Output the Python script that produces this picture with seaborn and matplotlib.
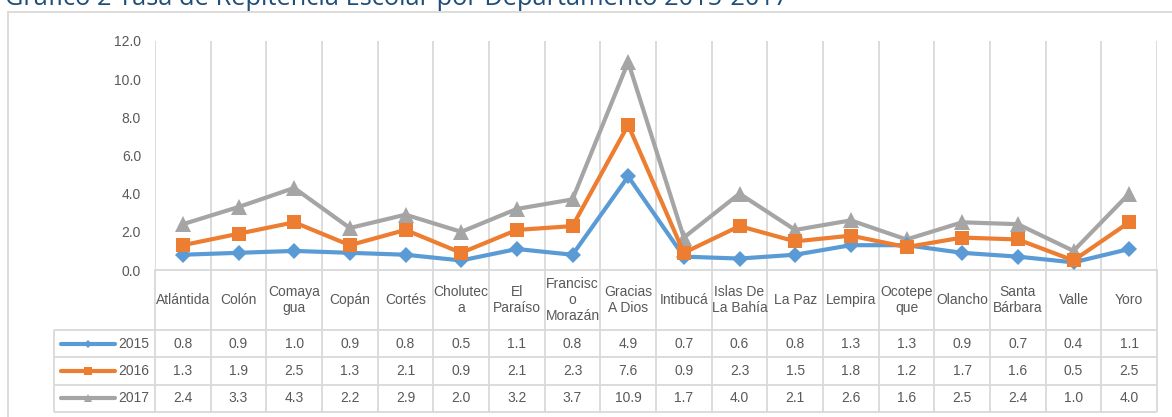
import numpy as np
import pandas as pd
import matplotlib
matplotlib.use("Agg")
import matplotlib.pyplot as plt
import seaborn as sns
from matplotlib.lines import Line2D

# datos del gráfico
departamentos = ["Atlántida", "Colón", "Comayagua", "Copán", "Cortés", "Choluteca",
                 "El Paraíso", "Francisco Morazán", "Gracias A Dios", "Intibucá",
                 "Islas De La Bahía", "La Paz", "Lempira", "Ocotepeque", "Olancho",
                 "Santa Bárbara", "Valle", "Yoro"]
etiquetas = ["Atlántida", "Colón", "Comaya\ngua", "Copán", "Cortés", "Cholutec\na",
             "El\nParaíso", "Francisc\no\nMorazán", "Gracias\nA Dios", "Intibucá",
             "Islas De\nLa Bahía", "La Paz", "Lempira", "Ocotepe\nque", "Olancho",
             "Santa\nBárbara", "Valle", "Yoro"]
anios = ["2015", "2016", "2017"]
tasa_2015 = [0.8, 0.9, 1.0, 0.9, 0.8, 0.5, 1.1, 0.8, 4.9, 0.7, 0.6, 0.8, 1.3, 1.3, 0.9, 0.7, 0.4, 1.1]
tasa_2016 = [1.3, 1.9, 2.5, 1.3, 2.1, 0.9, 2.1, 2.3, 7.6, 0.9, 2.3, 1.5, 1.8, 1.2, 1.7, 1.6, 0.5, 2.5]
tasa_2017 = [2.4, 3.3, 4.3, 2.2, 2.9, 2.0, 3.2, 3.7, 10.9, 1.7, 4.0, 2.1, 2.6, 1.6, 2.5, 2.4, 1.0, 4.0]
titulo = "Gráfico 2 Tasa de Repitencia Escolar por Departamento 2015-2017"

series = {"2015": tasa_2015, "2016": tasa_2016, "2017": tasa_2017}
estilo = {
    "2015": dict(color="#5B9BD5", marker="D", ms=8, z=3),
    "2016": dict(color="#ED7D31", marker="s", ms=10, z=4),
    "2017": dict(color="#A5A5A5", marker="^", ms=11, z=2),
}

filas = []
for a in anios:
    for i, d in enumerate(departamentos):
        filas.append({"pos": i, "departamento": d, "anio": a, "tasa": series[a][i]})
df = pd.DataFrame(filas)

sns.set_style("white")
plt.rcParams["font.family"] = ["Liberation Sans Narrow", "Liberation Sans", "DejaVu Sans"]

W, H = 1172, 417
fig = plt.figure(figsize=(W / 100, H / 100), dpi=100)
gris_txt = "#595959"
gris_lin = "#D9D9D9"

x0, x1 = 155, 1157
ax = fig.add_axes([x0 / W, 1 - 270 / H, (x1 - x0) / W, (270 - 41) / H])
tab = fig.add_axes([x0 / W, 1 - 412 / H, (x1 - x0) / W, (412 - 270) / H])

n = len(departamentos)
for a in anios:
    st = estilo[a]
    sns.lineplot(data=df[df["anio"] == a], x="pos", y="tasa", ax=ax, color=st["color"],
                 marker=st["marker"], markersize=st["ms"], markeredgewidth=0,
                 linewidth=3, zorder=st["z"], legend=False)

ax.set_xlim(-0.5, n - 0.5)
ax.set_ylim(0, 12)
ax.set_yticks(np.arange(0, 13, 2))
ax.yaxis.set_major_formatter(matplotlib.ticker.StrMethodFormatter("{x:.1f}"))
ax.set_xticks([])
ax.set_xticks(np.arange(-0.5, n, 1), minor=True)
ax.xaxis.grid(True, which="minor", color=gris_lin, linewidth=1.3)
ax.tick_params(axis="y", length=0, pad=10, labelsize=10, labelcolor=gris_txt)
ax.tick_params(axis="x", which="both", length=0)
ax.set_xlabel("")
ax.set_ylabel("")
for s in ["left", "top", "right"]:
    ax.spines[s].set_visible(False)
ax.spines["bottom"].set_color(gris_lin)
ax.spines["bottom"].set_linewidth(1.3)

# tabla de datos debajo del gráfico
tab.set_xlim(-0.5, n - 0.5)
tab.set_ylim(142, 0)
tab.axis("off")
col_px = (x1 - x0) / n
izq = -0.5 - (x0 - 54) / col_px
fila_y = [60, 87.3, 114.7, 142]
tab.vlines(np.arange(-0.5, n, 1), 0, 142, color=gris_lin, linewidth=1.3, clip_on=False)
tab.vlines([izq], 60, 142, color=gris_lin, linewidth=1.3, clip_on=False)
tab.hlines(fila_y, izq, n - 0.5, color=gris_lin, linewidth=1.3, clip_on=False)

for i, lab in enumerate(etiquetas):
    tab.text(i, 30, lab, ha="center", va="center", fontsize=10, color=gris_txt,
             linespacing=1.15)

for k, a in enumerate(anios):
    yc = (fila_y[k] + fila_y[k + 1]) / 2
    for i, v in enumerate(series[a]):
        tab.text(i, yc, f"{v:.1f}", ha="center", va="center", fontsize=10, color=gris_txt)
    st = estilo[a]
    kx0 = -0.5 - (x0 - 61) / col_px
    kx1 = -0.5 - (x0 - 115) / col_px
    tab.add_line(Line2D([kx0, kx1], [yc, yc], color=st["color"], linewidth=3,
                        solid_capstyle="round", clip_on=False))
    tab.add_line(Line2D([(kx0 + kx1) / 2], [yc], color=st["color"], marker=st["marker"],
                        markersize=st["ms"] * 0.55, markeredgewidth=0, clip_on=False))
    tab.text(-0.5 - (x0 - 118) / col_px, yc, a, ha="left", va="center", fontsize=10,
             color=gris_txt, clip_on=False)

# marco y título
fig.add_artist(Line2D([8 / W, 1], [1 - 12 / H, 1 - 12 / H], color=gris_lin, linewidth=1.3))
fig.add_artist(Line2D([8 / W, 8 / W], [0, 1 - 12 / H], color=gris_lin, linewidth=1.3))
t = fig.text(5 / W, 1 - 5 / H, titulo, fontsize=16, color="#1F4E79",
             family=["Open Sans", "DejaVu Sans"], ha="left", va="baseline")
fig.canvas.draw()
ancho = t.get_window_extent().width
t.set_fontsize(16 * 783 / ancho)

fig.savefig("out.png", dpi=100)
